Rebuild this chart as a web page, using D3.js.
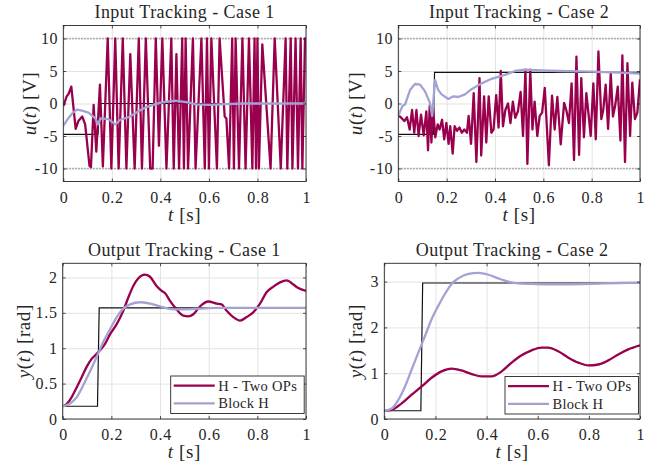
<!DOCTYPE html>
<html>
<head>
<meta charset="utf-8">
<script src="https://cdn.jsdelivr.net/npm/d3@7"></script>
<style>
  body { margin: 0; background: #fff; }
  svg text { font-family: "Liberation Serif", "Times New Roman", serif; fill: #262626; }
</style>
</head>
<body>
<svg id="fig" width="655" height="470"></svg>
<script>
// ---- data ----
var xTicks = [0, 0.2, 0.4, 0.6, 0.8, 1];
var xTickLabels = ["0", "0.2", "0.4", "0.6", "0.8", "1"];
var uTicks = [-10, -5, 0, 5, 10];
var uTickLabels = ["-10", "-5", "0", "5", "10"];
var y1Ticks = [0, 0.5, 1, 1.5, 2];
var y1TickLabels = ["0", "0.5", "1", "1.5", "2"];
var y2Ticks = [0, 1, 2, 3];
var y2TickLabels = ["0", "1", "2", "3"];
var uLimits = [-10, 10];
var legendNames = ["H - Two OPs", "Block H"];

// Input tracking, case 1
var in1Time = [0, 0.014, 0.022, 0.033, 0.051, 0.062, 0.078, 0.09, 0.108, 0.114, 0.125, 0.136, 0.151, 0.163,
  0.183, 0.198, 0.214, 0.228, 0.245, 0.26, 0.276, 0.294, 0.311, 0.324, 0.34, 0.358, 0.368, 0.381, 0.394,
  0.408, 0.425, 0.445, 0.455, 0.466, 0.477, 0.49, 0.497, 0.504, 0.514, 0.534, 0.545, 0.569, 0.583, 0.592,
  0.6, 0.61, 0.633, 0.644, 0.665, 0.672, 0.683, 0.696, 0.703, 0.71, 0.724, 0.738, 0.751, 0.765, 0.779,
  0.788, 0.794, 0.8, 0.806, 0.82, 0.854, 0.871, 0.896, 0.916, 0.923, 0.937, 0.944, 0.957, 0.967, 0.978,
  0.985, 0.996, 1.0];
var in1TwoOps = [-0.4, 1.1, 1.5, 2.6, -3.9, -2.7, -2.0, -3.2, -9.6, -9.8, -0.2, -7.4, 2.9, -9.7,
  10, -10, 10, -10, 10, -10, 7.6, -10, 10, -10, 10, -10, -10, 10, -6.5,
  10, -10, 10, -10, 7.6, -10, 10, -10, 10, -10, 10, -10, 10, -10, 10,
  -10, 10, -10, 10, -2, -2.3, -10, 10, -10, 10, -10, 10, -10, 10, -10,
  10, -10, 10, -10, 9.1, -10, 10, -10, 10, -10, 10, -10, 10, -10, 10,
  -10, 10, 10];
var in1BlockTime = [0, 0.02, 0.04, 0.056, 0.077, 0.104, 0.132, 0.143, 0.153, 0.186, 0.214, 0.235, 0.269,
  0.31, 0.338, 0.397, 0.459, 0.507, 0.548, 0.603, 0.665, 0.75, 1.0];
var in1Block = [-3.45, -2.3, -1.4, -0.95, -1.1, -1.4, -2.3, -3.2, -2.3, -2.4, -3.2, -2.5, -2.1,
  -1.2, -0.6, 0.1, 0.45, 0.2, -0.15, -0.2, -0.1, 0, 0];
var in1RefTime = [0, 0.143, 0.15, 1];
var in1Ref = [-4.75, -4.75, 0, 0];

// Input tracking, case 2
var in2Time = [0, 0.015, 0.025, 0.036, 0.047, 0.057, 0.066, 0.075, 0.084, 0.094, 0.105, 0.116, 0.123, 0.13,
  0.137, 0.144, 0.153, 0.163, 0.171, 0.181, 0.19, 0.199, 0.208, 0.215, 0.225, 0.233, 0.243, 0.253, 0.263,
  0.273, 0.284, 0.291, 0.301, 0.312, 0.323, 0.336, 0.343, 0.355, 0.364, 0.374, 0.385, 0.394, 0.405, 0.415,
  0.424, 0.433, 0.443, 0.454, 0.464, 0.474, 0.484, 0.495, 0.506, 0.516, 0.526, 0.534, 0.546, 0.555, 0.564,
  0.575, 0.585, 0.595, 0.606, 0.623, 0.636, 0.647, 0.658, 0.672, 0.686, 0.695, 0.706, 0.717, 0.727, 0.737,
  0.748, 0.757, 0.768, 0.778, 0.786, 0.796, 0.807, 0.817, 0.828, 0.84, 0.848, 0.858, 0.868, 0.879, 0.888,
  0.897, 0.908, 0.919, 0.927, 0.938, 0.948, 0.959, 0.968, 0.979, 0.989, 1.0];
var in2TwoOps = [-1.8, -2.3, -2.7, -2.1, -4.0, -1.0, -4.5, -1.0, -5.0, -1.7, -4.9, -1.2, -7.2, -0.3,
  -6.0, -0.7, -5.2, -3.2, -4.0, -2.5, -5.5, -3.0, -6.2, -3.5, -7.7, -3.5, -4.2, -3.7, -4.5,
  -4.0, -4.5, -1.9, -6.2, 1.6, -9.0, 3.9, -8.0, 1.1, -6.0, 1.1, -4.5, -4.0, 1.3, -3.7,
  5.0, -3.5, -1.0, 0.0, -3.0, 0.3, -2.2, -1.2, 1.8, -5.0, 5.2, -9.3, 5.2, -4.0, 0.3,
  -5.0, -1.9, -1.4, 2.4, -9.5, 1.2, -4.0, 1.0, -6.3, 0.1, -1.0, -3.0, 3.1, -8.7, 7.2,
  -7.9, 3.9, -5.2, 1.6, -1.2, -5.0, 3.1, -5.5, 8.0, -2.4, -1.0, 2.9, -3.9, 4.6, -2.0,
  -0.4, 2.6, -5.7, 7.4, -9.0, 6.2, -5.0, 3.2, -2.4, -1.4, 3.7];
var in2BlockTime = [0, 0.017, 0.028, 0.049, 0.069, 0.09, 0.11, 0.131, 0.14, 0.152, 0.165, 0.179, 0.207,
  0.228, 0.248, 0.276, 0.303, 0.345, 0.386, 0.441, 0.483, 0.524, 0.593, 0.662, 0.8, 0.938, 1.0];
var in2Block = [-1.9, -0.4, -0.15, 2.1, 3.0, 2.9, 1.9, 0.1, -1.9, 3.6, 2.1, 1.4, 0.7,
  1.1, 1.0, 1.4, 2.2, 3.1, 3.8, 4.4, 5.0, 5.2, 5.1, 5.0, 4.9, 4.7, 4.6];
var in2RefTime = [0, 0.145, 0.15, 1];
var in2Ref = [-4.75, -4.75, 4.8, 4.8];

// Output tracking, case 1
var out1Time = [0, 0.016, 0.037, 0.058, 0.078, 0.099, 0.119, 0.14, 0.153, 0.174, 0.195, 0.222, 0.249, 0.27,
  0.29, 0.311, 0.338, 0.359, 0.386, 0.407, 0.42, 0.441, 0.468, 0.496, 0.516, 0.537, 0.564, 0.599, 0.633,
  0.653, 0.674, 0.701, 0.729, 0.756, 0.784, 0.811, 0.838, 0.866, 0.893, 0.921, 0.948, 0.968, 1.0];
var out1TwoOps = [0.18, 0.21, 0.31, 0.45, 0.59, 0.74, 0.85, 0.92, 0.97, 1.06, 1.2, 1.34, 1.53, 1.72,
  1.88, 1.99, 2.04, 2.01, 1.88, 1.81, 1.78, 1.67, 1.55, 1.46, 1.45, 1.48, 1.59, 1.66, 1.63,
  1.62, 1.53, 1.44, 1.39, 1.44, 1.51, 1.63, 1.79, 1.87, 1.93, 1.96, 1.9, 1.85, 1.81];
var out1BlockTime = [0, 0.03, 0.058, 0.085, 0.112, 0.14, 0.167, 0.195, 0.222, 0.249, 0.277, 0.318, 0.359,
  0.4, 0.455, 0.51, 0.564, 0.633, 1.0];
var out1Block = [0.18, 0.22, 0.31, 0.48, 0.67, 0.88, 1.09, 1.27, 1.44, 1.56, 1.62, 1.65, 1.63,
  1.59, 1.55, 1.55, 1.56, 1.57, 1.57];
var out1RefTime = [0, 0.143, 0.15, 1];
var out1Ref = [0.18, 0.18, 1.57, 1.57];

// Output tracking, case 2
var out2Time = [0, 0.029, 0.068, 0.107, 0.146, 0.185, 0.224, 0.263, 0.302, 0.342, 0.381, 0.42, 0.459, 0.498,
  0.537, 0.576, 0.615, 0.641, 0.68, 0.72, 0.759, 0.798, 0.837, 0.876, 0.915, 0.954, 1.0];
var out2TwoOps = [0.18, 0.2, 0.34, 0.53, 0.71, 0.9, 1.04, 1.1, 1.06, 0.98, 0.93, 0.93, 1.04, 1.23,
  1.39, 1.5, 1.56, 1.56, 1.48, 1.34, 1.23, 1.17, 1.19, 1.28, 1.41, 1.52, 1.61];
var out2BlockTime = [0, 0.029, 0.055, 0.081, 0.107, 0.133, 0.159, 0.185, 0.211, 0.237, 0.263, 0.289, 0.329,
  0.368, 0.407, 0.446, 0.485, 0.524, 0.576, 0.628, 0.707, 0.811, 0.915, 1.0];
var out2Block = [0.18, 0.23, 0.42, 0.71, 1.08, 1.45, 1.81, 2.18, 2.47, 2.73, 2.95, 3.07, 3.17,
  3.19, 3.15, 3.07, 3.0, 2.96, 2.95, 2.94, 2.94, 2.95, 2.97, 2.98];
var out2RefTime = [0, 0.143, 0.15, 1];
var out2Ref = [0.18, 0.18, 2.97, 2.97];

var colTwoOps = "#99004d", colBlock = "#a3a3d3", colRef = "#111111", axisCol = "#262626";
var serif = "'Liberation Serif', 'Times New Roman', serif";

var svg = d3.select("#fig");
var clipId = 0;

function drawPanel(p) {
  var x = d3.scaleLinear().domain([0, 1]).range([p.left, p.right]);
  var y = d3.scaleLinear().domain(p.yDomain).range([p.bottom, p.top]);
  var h = p.bottom - p.top, w = p.right - p.left;
  var g = svg.append("g");

  // grid
  var gx = g.append("g").attr("transform", "translate(0," + p.bottom + ")")
    .call(d3.axisBottom(x).tickValues(xTicks).tickSize(-h).tickFormat("").tickSizeOuter(0));
  var gy = g.append("g").attr("transform", "translate(" + p.left + ",0)")
    .call(d3.axisLeft(y).tickValues(p.yTicks).tickSize(-w).tickFormat("").tickSizeOuter(0));
  [gx, gy].forEach(function(a) {
    a.select(".domain").remove();
    a.selectAll("line").attr("stroke", "#e3e3e3").attr("stroke-width", 1);
  });

  var id = "clip" + (clipId++);
  svg.append("clipPath").attr("id", id).append("rect")
    .attr("x", p.left).attr("y", p.top).attr("width", w).attr("height", h);
  var plot = g.append("g").attr("clip-path", "url(#" + id + ")");

  if (p.limits) {
    plot.selectAll(".lim").data(p.limits).enter().append("line")
      .attr("x1", p.left).attr("x2", p.right)
      .attr("y1", function(d) { return y(d); }).attr("y2", function(d) { return y(d); })
      .attr("stroke", "#8c8c8c").attr("stroke-width", 1.3).attr("stroke-dasharray", "1.3,1.7");
  }

  var line = d3.line().x(function(d) { return x(d[0]); }).y(function(d) { return y(d[1]); })
    .curve(p.smooth ? d3.curveMonotoneX : d3.curveLinear);
  var refLine = d3.line().x(function(d) { return x(d[0]); }).y(function(d) { return y(d[1]); });

  plot.append("path").datum(d3.zip(p.refTime, p.ref)).attr("d", refLine)
    .attr("fill", "none").attr("stroke", colRef).attr("stroke-width", 1.2);
  plot.append("path").datum(d3.zip(p.twoTime, p.two)).attr("d", line)
    .attr("fill", "none").attr("stroke", colTwoOps).attr("stroke-width", 2.3).attr("stroke-linejoin", "round");
  plot.append("path").datum(d3.zip(p.blockTime, p.block)).attr("d", line)
    .attr("fill", "none").attr("stroke", colBlock).attr("stroke-width", 2.3).attr("stroke-linejoin", "round");

  // axes with inward ticks on all sides
  var axB = g.append("g").attr("transform", "translate(0," + p.bottom + ")")
    .call(d3.axisBottom(x).tickValues(xTicks).tickSize(-3).tickSizeOuter(0).tickPadding(10)
      .tickFormat(function(d, i) { return xTickLabels[i]; }));
  var axT = g.append("g").attr("transform", "translate(0," + p.top + ")")
    .call(d3.axisTop(x).tickValues(xTicks).tickSize(-3).tickSizeOuter(0).tickFormat(""));
  var axL = g.append("g").attr("transform", "translate(" + p.left + ",0)")
    .call(d3.axisLeft(y).tickValues(p.yTicks).tickSize(-3).tickSizeOuter(0).tickPadding(5)
      .tickFormat(function(d, i) { return p.yTickLabels[i]; }));
  var axR = g.append("g").attr("transform", "translate(" + p.right + ",0)")
    .call(d3.axisRight(y).tickValues(p.yTicks).tickSize(-3).tickSizeOuter(0).tickFormat(""));
  [axB, axT, axL, axR].forEach(function(a) {
    a.attr("font-family", serif).attr("font-size", 16);
    a.select(".domain").remove();
    a.selectAll("line").attr("stroke", axisCol).attr("stroke-width", 0.8);
    a.selectAll("text").style("font-family", serif).style("font-size", "16px")
      .attr("letter-spacing", 0.7).style("fill", axisCol);
  });
  axB.selectAll("text").attr("dx", "0.35");

  g.append("rect").attr("x", p.left).attr("y", p.top).attr("width", w).attr("height", h)
    .attr("fill", "none").attr("stroke", axisCol).attr("stroke-width", 0.9);

  // title
  g.append("text").attr("x", (p.left + p.right) / 2).attr("y", p.top - 7.5)
    .attr("text-anchor", "middle").attr("font-size", 18).attr("letter-spacing", 0.45).text(p.title);

  // x label
  var xl = g.append("text").attr("x", (p.left + p.right) / 2).attr("y", p.bottom + 39)
    .attr("text-anchor", "middle").attr("font-size", 19).attr("letter-spacing", 0.6);
  xl.append("tspan").attr("font-style", "italic").text("t");
  xl.append("tspan").text(" [s]");

  // y label
  var yl = g.append("text").attr("transform", "translate(" + p.ylabelX + "," + ((p.top + p.bottom) / 2) + ") rotate(-90)")
    .attr("text-anchor", "middle").attr("font-size", 19).attr("letter-spacing", 0.6);
  yl.append("tspan").attr("font-style", "italic").text(p.yVar);
  yl.append("tspan").text("(");
  yl.append("tspan").attr("font-style", "italic").text("t");
  yl.append("tspan").text(") [" + p.yUnit + "]");

  if (p.legend) {
    var lg = g.append("g").attr("transform", "translate(" + p.legend[0] + "," + p.legend[1] + ")");
    lg.append("rect").attr("width", 133.5).attr("height", 37.5)
      .attr("fill", "#fff").attr("stroke", axisCol).attr("stroke-width", 0.9);
    var rows = lg.selectAll(".row").data([colTwoOps, colBlock]).enter().append("g")
      .attr("transform", function(d, i) { return "translate(0," + (9.7 + i * 17.6) + ")"; });
    rows.append("line").attr("x1", 3).attr("x2", 44).attr("stroke", function(d) { return d; })
      .attr("stroke-width", 2.3);
    rows.append("text").attr("x", 47.5).attr("dy", "0.35em").attr("font-size", 14.5)
      .attr("letter-spacing", 0.3).text(function(d, i) { return legendNames[i]; });
  }
}

drawPanel({ left: 63.3, right: 306, top: 25.5, bottom: 181.5, yDomain: [-12, 12],
  yTicks: uTicks, yTickLabels: uTickLabels, limits: uLimits, title: "Input Tracking - Case 1",
  yVar: "u", yUnit: "V", ylabelX: 36,
  twoTime: in1Time, two: in1TwoOps, blockTime: in1BlockTime, block: in1Block, refTime: in1RefTime, ref: in1Ref });
drawPanel({ left: 398.3, right: 640, top: 25.5, bottom: 181.5, yDomain: [-12, 12],
  yTicks: uTicks, yTickLabels: uTickLabels, limits: uLimits, title: "Input Tracking - Case 2",
  yVar: "u", yUnit: "V", ylabelX: 362,
  twoTime: in2Time, two: in2TwoOps, blockTime: in2BlockTime, block: in2Block, refTime: in2RefTime, ref: in2Ref });
drawPanel({ left: 62.7, right: 306, top: 263.3, bottom: 419, yDomain: [0, 2.2], smooth: true,
  yTicks: y1Ticks, yTickLabels: y1TickLabels, title: "Output Tracking - Case 1",
  yVar: "y", yUnit: "rad", ylabelX: 30, legend: [170.7, 376],
  twoTime: out1Time, two: out1TwoOps, blockTime: out1BlockTime, block: out1Block, refTime: out1RefTime, ref: out1Ref });
drawPanel({ left: 384.3, right: 640, top: 263.3, bottom: 419, yDomain: [0, 3.4], smooth: true,
  yTicks: y2Ticks, yTickLabels: y2TickLabels, title: "Output Tracking - Case 2",
  yVar: "y", yUnit: "rad", ylabelX: 362, legend: [505, 376.5],
  twoTime: out2Time, two: out2TwoOps, blockTime: out2BlockTime, block: out2Block, refTime: out2RefTime, ref: out2Ref });
</script>
</body>
</html>
